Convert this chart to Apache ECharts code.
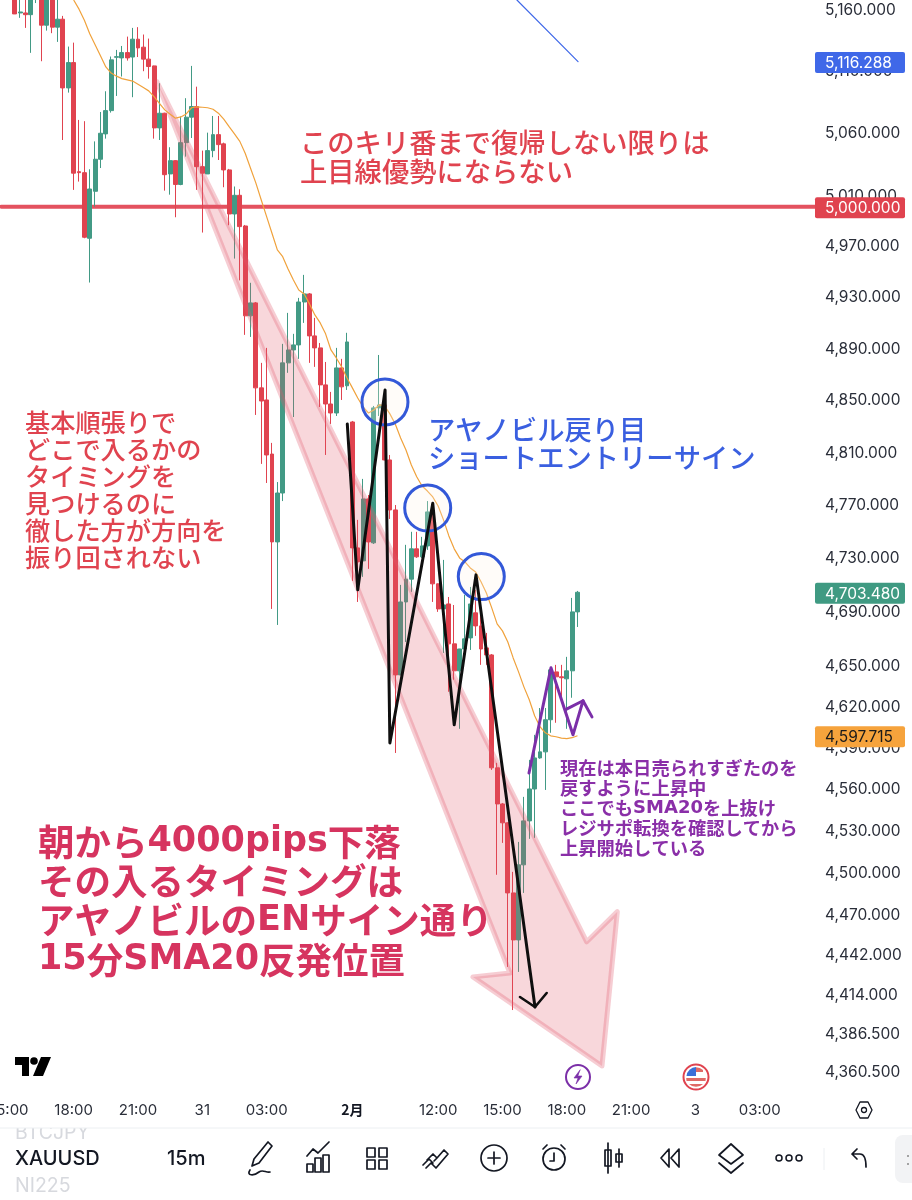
<!DOCTYPE html>
<html>
<head>
<meta charset="utf-8">
<script src="https://cdn.jsdelivr.net/npm/echarts@6/dist/echarts.min.js"></script>
<style>
html,body{margin:0;padding:0;background:#fff}
#chart{width:912px;height:1200px}
</style>
</head>
<body>
<div id="chart"></div>
<script>
// 15m XAUUSD bars
const opens = [5174.6,5155.9,5155.9,5154.5,5171.4,5171.4,5145.9,5171.4,5144.3,5150.8,
5095,5115.5,5027.8,5027,4975,5012.2,5037.7,5058,5076.7,5119.8,
5119.3,5123.6,5120,5134.5,5128,5118.3,5112.8,5062.8,5074.6,5026,
5036.6,5017.6,5051,5071.4,5080,5031.8,5026,5044.6,5057.4,5050,
5029.2,4994.2,5009,4984.7,4914.2,4924.3,4858.4,4849.1,4807.7,4741.2,
4778.1,4877.7,4887.7,4891.6,4925,4931.3,4898.6,4889.3,4860.7,4846,
4839.1,4873.8,4860,4832.2,4736.7,4727,4773.6,4740.5,4843,4845.3,
4803.2,4765.3,4642.3,4696.3,4713.3,4736,4730,4738.2,4763.8,4709.8,
4691.1,4694.8,4665.2,4645.3,4661.4,4669.6,4688.2,4678.5,4662.2,4657,
4574.4,4548.3,4534.7,4484.6,4451.3,4504.6,4536.1,4559.1,4581.6,4586,
4609.4,4644.5,4640.9,4639.4,4645.3,4688.9];
const closes = [5155.1,5156.7,5154.5,5173,5174.6,5145.9,5171.4,5144.3,5150.8,5095,
5115.5,5026.6,5027,4975.8,5014,5037.7,5058.5,5076.7,5117.7,5120.3,
5123.6,5119.3,5134.5,5127.4,5118.3,5112.3,5062.8,5074.6,5025.4,5036.6,
5017.6,5051,5071.4,5080,5031.8,5026.6,5044.6,5057.4,5049.4,5029.2,
4994.2,5009,4984.2,4914.2,4924.3,4858.4,4848.3,4807,4741.2,4778.1,
4877.7,4887.7,4891.6,4925,4931.3,4898.6,4889.3,4860.7,4846,4839.1,
4873.8,4859.2,4893.9,4736.7,4726.2,4773.6,4741.2,4843,4845.3,4803.2,
4765.3,4642.3,4696.3,4713.3,4736,4730,4738.2,4763.8,4709.8,4691.1,
4694.1,4665.2,4645.3,4661.4,4668.9,4694.8,4678.5,4661.4,4657,4574.4,
4548.3,4534.7,4484.6,4451.3,4504.6,4536.1,4559.1,4581.6,4586,4609.4,
4646,4640.9,4640.2,4645.3,4688.9,4703.5];
const lows = [5155,5151.9,5143.7,5123.4,5164,5116.6,5141.5,5139.4,5132.3,5053.1,
5091.2,5013.3,5019.9,4975,4940.2,5000,5030.7,5054.2,5075.1,5088.5,
5104.2,5117.1,5087.5,5120,5108.5,5102.5,5054.2,5053.1,5012.7,5009.5,
4991.6,5017,5039.8,5054.7,5013.3,4979.5,5026,5039.3,5037.1,5015.4,
4985.3,4959,4941.9,4899.4,4897.8,4837.6,4800.2,4785.7,4691.1,4679.2,
4772,4870,4836,4880.8,4908.7,4877.7,4874.6,4843.7,4807,4830.7,
4836.8,4849.1,4856.8,4712,4696.3,4715,4721,4739.7,4836.8,4803,
4758.5,4585.2,4642,4666.6,4703.8,4729.2,4729.2,4735.2,4696.3,4688.9,
4658.5,4629.9,4638.7,4602.8,4657,4660.7,4671.1,4649.7,4649.7,4572.9,
4497.5,4520.3,4432.3,4402.1,4428.8,4484.6,4523.2,4523.9,4581,4558.4,
4599.9,4607.2,4626.2,4602.8,4625.5,4677.7];
const highs = [5183,5170.6,5171,5178,5180,5180,5178,5177,5168,5153.5,
5128.5,5131.7,5069.2,5068.2,5029.7,5052,5075.6,5092.3,5120.4,5125.8,
5129,5136.6,5143.7,5144.3,5138.3,5135,5113,5098.8,5075,5047.3,
5037,5071.9,5086.7,5112.8,5096,5044.6,5059,5072.4,5072.4,5051,
5030,5016,5013.8,4985.5,4940,4925,4877.7,4889.3,4816.2,4786.4,
4892.4,4916.5,4900.2,4928.2,4946.2,4932,4912.6,4893.1,4878.4,4855.3,
4889.3,4880.8,4901,4833,4757.8,4788.8,4776.6,4844.5,4883.8,4846.8,
4807,4769,4709,4739,4748.8,4748.8,4745,4772,4770.5,4710,
4727.7,4700,4694,4661.5,4701.5,4707.5,4705.3,4692.6,4673.3,4657.7,
4578,4549,4535,4499.6,4521,4553.4,4580.2,4598.4,4618,4618,
4647.5,4649.7,4649.7,4655.6,4699.3,4704.5];

// SMA20, first value belongs to bar 11
const smaLead = 11;
const smaValues = [5166.5,5159,5150,5139,5130,5121,5112,5107,5104.5,5102.5,
5101.5,5100.5,5098,5095.3,5092.6,5088,5082.6,5077.3,5073.8,5070.6,
5071.6,5074,5079,5079.7,5079.4,5079,5077.8,5074.6,5069.8,5063.8,
5058,5052,5042.5,5030.5,5018.7,5005.3,4992.1,4979,4965.8,4960.5,
4950.9,4942.2,4934.4,4931.3,4923.5,4914.9,4908.7,4900.2,4887.7,4881.5,
4874.6,4866,4858.4,4850.6,4843.7,4839.1,4841.4,4845.3,4844.5,4838.4,
4830.7,4820,4810.8,4799.4,4790.4,4783.4,4779.6,4775.1,4768.3,4757.8,
4745.7,4736,4729.2,4726.2,4721.7,4718.7,4711.3,4703,4691.9,4680,
4674.8,4666.6,4654.8,4644.5,4633.5,4624,4612.3,4604.3,4599.9,4597.7,
4597,4596,4595.6,4596.3,4597.7];

// axis labels
const slotCount = 170;
const barLead = 2;
const xTickSlots = [1,13,25,37,49,65,81,93,105,117,129,141];
const xTickTexts = ['15:00','18:00','21:00','31','03:00','2月','12:00','15:00','18:00','21:00','3','03:00'];
const yTicks = [5160,5110,5060,5010,4970,4930,4890,4850,4810,4770,4730,4690,4650,4620,4590,4560,4530,4500,4470,4442,4414,4386.5,4360.5];
const priceMin = 4343.9, priceMax = 5166.5;

// price tags on the scale
const tagPrices = [5116.288,5000,4703.48,4597.715];
const tagFills = ['#3f68e8','#e0434f','#3f9a82','#f6a33c'];
const tagInk = ['#fff','#fff','#fff','#1a1a1a'];

// drawings, in slot / price units
const levelX = [-0.5,151.3], levelY = [5000,5000];
const blueX = [95.7,107.1], blueY = [5166.5,5116.3];
const zigX = [64.05,66,71.1,72,80,84,88.06,99.07], zigY = [4830.7,4705.3,4856.8,4592.5,4770.3,4605.7,4716.5,4404.2];
const headX = [96.27,99.07,101.25], headY = [4411.2,4404.2,4414];
const purpleX = [97.95,102.05,106.16,108.03,109.7], purpleY = [4570.7,4647.5,4598.4,4623.3,4611.5];
const purple2X = [105.04,108.03], purple2Y = [4617.4,4623.3];
const ringX = [71.08,79.05,89.05], ringY = [4847.6,4766.8,4715.2];
const arrowX = [28.55,108.72,114.43,111.57,87.5,94.4], arrowY = [5099.9,4450,4471.3,4363.2,4425.3,4428];

// notes
const topNote = ['このキリ番まで復帰しない限りは','上目線優勢にならない'];
const blueNote = ['アヤノビル戻り目','ショートエントリーサイン'];
const leftNote = ['基本順張りで','どこで入るかの','タイミングを','見つけるのに','徹した方が方向を','振り回されない'];
const bigNote = ['朝から4000pips下落','その入るタイミングは','アヤノビルのENサイン通り','15分SMA20反発位置'];
const purpleNote = ['現在は本日売られすぎたのを','戻すように上昇中','ここでもSMA20を上抜け','レジサポ転換を確認してから','上昇開始している'];

const categories = new Array(slotCount).fill('');
xTickSlots.forEach((s, i) => { categories[s] = xTickTexts[i]; });
const pad = new Array(barLead).fill(['-','-','-','-']);
const candles = pad.concat(opens.map((o, i) => [o, closes[i], lows[i], highs[i]]));
const smaSeries = new Array(barLead + smaLead).fill('-').concat(smaValues);
const pairs = (xs, ys) => xs.map((x, i) => [x, ys[i]]);
const money = v => v.toLocaleString('en-US', {minimumFractionDigits: 3, maximumFractionDigits: 3});

const JP = '"Noto Sans CJK JP"';
const UI = 'Inter, Roboto, sans-serif';
const PRICE_FONT = '15.5px ' + UI;

function drawLine(name, xs, ys, color, width, z) {
	return {
		name, type: 'line', xAxisIndex: 1, data: pairs(xs, ys), symbol: 'none', z,
		lineStyle: {color, width, cap: 'round', join: 'round'}, silent: true
	};
}

// latinFont: bold wide face for the ascii runs inside a Japanese line
function noteLines(lines, x, y0, step, font, fill, latinFont) {
	return lines.map((text, i) => ({
		type: 'text', x, y: y0 + i * step, z: 50,
		style: {
			text: latinFont ? text.replace(/[A-Za-z0-9]+/g, m => '{l|' + m + '}') : text,
			font, fill, textVerticalAlign: 'middle',
			rich: latinFont ? {l: {font: latinFont, fill}} : undefined
		}
	}));
}

function icon(x, y, pathData, extra) {
	return {
		type: 'path', x, y, shape: {pathData},
		style: Object.assign({fill: 'none', stroke: '#131722', lineWidth: 1.7, lineJoin: 'round', lineCap: 'round'}, extra || {})
	};
}

// toolbar, logo and badges
const chrome = [
	icon(0, 0, 'M15 1057H29V1076H22V1065H15Z M41 1057H51L43 1076H33Z', {fill: '#000', stroke: 'none'}),
	icon(34, 1061, 'M3.8 0A3.8 3.8 0 1 1 -3.8 0A3.8 3.8 0 1 1 3.8 0Z', {fill: '#000', stroke: 'none'}),
	icon(578, 1077, 'M12 0A12 12 0 1 1 -12 0A12 12 0 1 1 12 0Z', {stroke: '#7b2fa8', lineWidth: 2, fill: '#fff'}),
	icon(578, 1077, 'M2 -7L-4 1H0L-2 7L4 -1H0Z', {fill: '#7b2fa8', stroke: '#7b2fa8', lineWidth: 0.6}),
	icon(696, 1077, 'M12.5 0A12.5 12.5 0 1 1 -12.5 0A12.5 12.5 0 1 1 12.5 0Z', {stroke: '#e0434f', lineWidth: 2, fill: '#fff'}),
	icon(696, 1077, 'M-9.5 -1A10 10 0 0 1 0 -10V-1Z', {fill: '#3a6fd8', stroke: 'none'}),
	icon(696, 1077, 'M0 -9.8A10 10 0 0 1 7 -7V-5H0Z M-9.8 1H9.8L9.5 4H-9.5Z M-7 7H7A10 10 0 0 1 -7 7Z', {fill: '#df6a66', stroke: 'none'}),
	icon(864, 1110, 'M-8 0L-4 -8H4L8 0L4 8H-4Z M2.5 0A2.5 2.5 0 1 1 -2.5 0A2.5 2.5 0 1 1 2.5 0Z', {lineWidth: 1.3}),
	icon(260, 1158, 'M-10 12C-14 18 -6 18 -1 14C3 11 6 15 10 14M-8 8L-6 1L8 -16L12 -12L-1 5Z'),
	icon(319, 1158, 'M-12 14H-6V6H-12Z M-4 14H2V0H-4Z M4 14H10V-3H4Z M-12 -2L-6 -9L-1 -5L10 -16'),
	icon(377, 1158, 'M-10 -10H-2V-1H-10Z M2 -10H10V-1H2Z M-10 2H-2V11H-10Z M2 2H10V11H2Z'),
	icon(436, 1158, 'M-13 7L-7 1L-3 5M-10 10L-5 5L0 10L12 -4L8 -8L1 0L-3 -4L-9 2M1 0L-2 3'),
	icon(494, 1158, 'M-13 0A13 13 0 1 0 13 0A13 13 0 1 0 -13 0Z M-6 0H6 M0 -6V6'),
	icon(554, 1158, 'M-11 1A11 11 0 1 0 11 1A11 11 0 1 0 -11 1Z M0 -5V3H-4 M-11 -9L-7 -13 M11 -9L7 -13'),
	icon(613, 1158, 'M-5 -15V15 M-8 -8H-2V8H-8Z M6 -9V9 M3 -4H9V4H3Z'),
	icon(671, 1158, 'M-2 -9L-10 0L-2 9Z M8 -9L0 0L8 9Z'),
	icon(731, 1158, 'M0 -14L12 -3L0 6L-12 -3Z M-12 5L0 15L12 5'),
	icon(789, 1158, 'M-7 0A3 3 0 1 1 -13 0A3 3 0 1 1 -7 0Z M3 0A3 3 0 1 1 -3 0A3 3 0 1 1 3 0Z M13 0A3 3 0 1 1 7 0A3 3 0 1 1 13 0Z', {lineWidth: 1.5}),
	icon(858, 1158, 'M-6 -4L-1 -9M-6 -4L-1 1M-6 -4H2C6 -4 8 0 8 9')
];

const option = {
	animation: false,
	backgroundColor: '#fff',
	grid: {left: 1.3, top: 0, width: 911.2, height: 1094, outerBoundsMode: 'none'},
	xAxis: [
		{
			type: 'category', data: categories, boundaryGap: true,
			axisLine: {show: false}, axisTick: {show: false}, splitLine: {show: false},
			axisLabel: {
				interval: 0, margin: 9, fontFamily: UI, fontSize: 15, color: '#2a2e39',
				formatter: v => v === '2月' ? '{b|2月}' : v,
				rich: {b: {fontWeight: 'bold', fontFamily: JP, fontSize: 14, color: '#131722'}}
			}
		},
		{type: 'value', min: -0.5, max: slotCount - 0.5, show: false, splitLine: {show: false}}
	],
	yAxis: {type: 'log', logBase: 10, min: priceMin, max: priceMax, show: false, splitLine: {show: false}},
	series: [
		drawLine('5000', levelX, levelY, '#e4525f', 4, 1),
		{
			name: 'XAUUSD', type: 'candlestick', data: candles, barWidth: 4.4, z: 2, silent: true,
			itemStyle: {color: '#429a85', color0: '#e0434f', borderColor: '#429a85', borderColor0: '#e0434f', borderWidth: 1}
		},
		{
			name: 'arrow', type: 'custom', xAxisIndex: 1, data: [0], z: 3, silent: true,
			renderItem: (params, api) => ({
				type: 'polygon',
				shape: {points: arrowX.map((x, i) => api.coord([x, arrowY[i]]))},
				style: {fill: 'rgba(226,80,100,0.23)', stroke: 'rgba(226,90,110,0.3)', lineWidth: 5, lineJoin: 'round'}
			})
		},
		{
			name: 'SMA20', type: 'line', data: smaSeries, symbol: 'none', z: 4, silent: true,
			lineStyle: {color: '#f0a23c', width: 1.2}
		},
		drawLine('trend', blueX, blueY, '#3f68e8', 1.2, 4),
		{
			name: 'rings', type: 'scatter', xAxisIndex: 1, data: pairs(ringX, ringY), symbol: 'circle', symbolSize: 46, z: 5, silent: true,
			itemStyle: {color: 'rgba(255,244,232,0.25)', borderColor: '#3358d8', borderWidth: 3, opacity: 1}
		},
		drawLine('zigzag', zigX, zigY, '#0f0f0f', 3, 6),
		drawLine('zighead', headX, headY, '#0f0f0f', 2.6, 6),
		drawLine('purple', purpleX, purpleY, '#7b2fa8', 3, 6),
		drawLine('purple2', purple2X, purple2Y, '#7b2fa8', 3, 6),
		{
			name: 'yTicks', type: 'custom', xAxisIndex: 1, data: yTicks, encode: {y: 0}, z: 7, silent: true,
			renderItem: (params, api) => {
				const p = api.coord([149, api.value(0)]);
				return {
					type: 'text',
					style: {text: money(api.value(0)), x: 825, y: p[1] + 2, fill: '#2a2e39', font: PRICE_FONT, textVerticalAlign: 'middle'}
				};
			}
		},
		{
			name: 'tags', type: 'custom', xAxisIndex: 1, data: tagPrices, encode: {y: 0}, z: 8, silent: true,
			renderItem: (params, api) => {
				const p = api.coord([149, api.value(0)]);
				const i = params.dataIndex;
				return {
					type: 'group',
					children: [
						{type: 'rect', shape: {x: 815, y: p[1] - 9.5, width: 90, height: 21, r: 2}, style: {fill: tagFills[i]}},
						{type: 'text', style: {text: money(api.value(0)), x: 825, y: p[1] + 2, fill: tagInk[i], font: PRICE_FONT, textVerticalAlign: 'middle'}}
					]
				};
			}
		},
		{
			name: 'chrome', type: 'custom', xAxisIndex: 1, data: [0], z: 9, silent: true,
			renderItem: () => ({type: 'group', children: chrome})
		}
	],
	graphic: [
		...noteLines(topNote, 300, 143, 29, '500 27.3px ' + JP, '#e0434f'),
		...noteLines(blueNote, 428, 430, 28, '500 27.3px ' + JP, '#3a5fe0'),
		...noteLines(leftNote, 25, 422, 27, '500 25.2px ' + JP, '#e0434f'),
		...noteLines(bigNote, 38, 842, 39.3, '700 36.5px ' + JP, '#d6345f', 'bold 35px "DejaVu Sans"'),
		...noteLines(purpleNote, 560, 768, 20, '700 18.3px ' + JP, '#8a2fa8', 'bold 18px "DejaVu Sans"'),

		{type: 'line', z: 50, shape: {x1: 0, y1: 1128, x2: 912, y2: 1128}, style: {stroke: '#eceff2', lineWidth: 1}},
		{type: 'text', z: 49, x: 15, y: 1133, style: {text: 'BTCJPY', font: '19.5px ' + UI, fill: '#d7d9de', textVerticalAlign: 'middle'}},
		{type: 'rect', z: 49, shape: {x: 0, y: 1118, width: 120, height: 10}, style: {fill: '#fff'}},
		{type: 'text', z: 50, x: 15, y: 1159, style: {text: 'XAUUSD', font: '500 20px ' + UI, fill: '#131722', textVerticalAlign: 'middle'}},
		{type: 'text', z: 50, x: 15, y: 1186, style: {text: 'NI225', font: '19.5px ' + UI, fill: '#d7d9de', textVerticalAlign: 'middle'}},
		{type: 'text', z: 50, x: 167, y: 1159, style: {text: '15m', font: '500 20px ' + UI, fill: '#131722', textVerticalAlign: 'middle'}},
		{type: 'line', z: 50, shape: {x1: 824, y1: 1148, x2: 824, y2: 1170}, style: {stroke: '#eceff2', lineWidth: 1}},
		{type: 'rect', z: 50, shape: {x: 895, y: 1135, width: 30, height: 48, r: 8}, style: {fill: '#f2f3f5'}},
		{type: 'circle', z: 51, shape: {cx: 908, cy: 1156, r: 1}, style: {fill: '#888'}},
		{type: 'circle', z: 51, shape: {cx: 908, cy: 1164, r: 1}, style: {fill: '#888'}}
	]
};

const chartInstance = echarts.init(document.getElementById('chart'));
chartInstance.setOption(option);
</script>
</body>
</html>
